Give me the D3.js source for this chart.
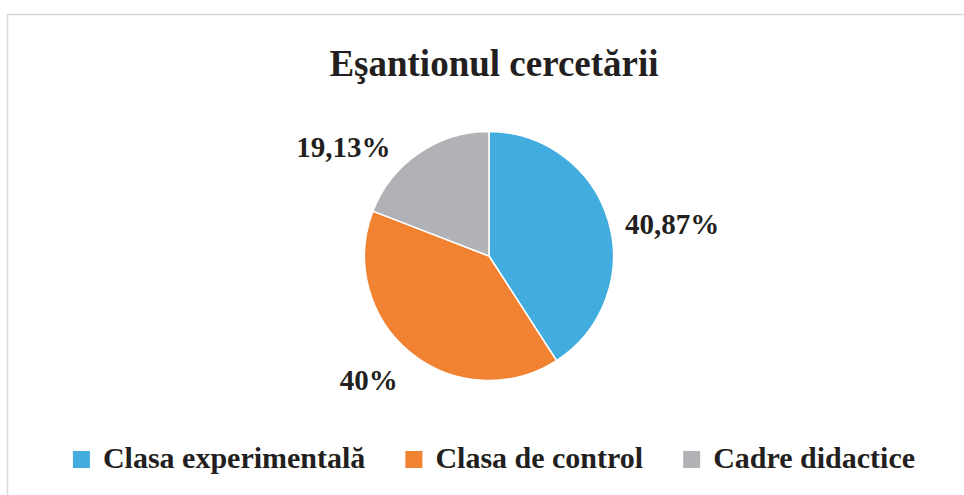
<!DOCTYPE html>
<html>
<head>
<meta charset="utf-8">
<script src="https://cdn.jsdelivr.net/npm/d3@7"></script>
<style>
  body { margin: 0; background: #fff; }
  text { font-family: "Liberation Serif", "Times New Roman", serif; font-weight: bold; fill: #231f20; }
</style>
</head>
<body>
<div id="chart"></div>
<script>
// Chart data
const title = "Eşantionul cercetării";
const categories = ["Clasa experimentală", "Clasa de control", "Cadre didactice"];
const values = [40.87, 40, 19.13];
const valueLabels = ["40,87%", "40%", "19,13%"];
const colors = ["#41acdd", "#f08232", "#b1b2b6"];
// small manual shifts for the outside labels (Excel places them its own way)
const labelNudge = [[28, 24], [-18, 8], [-54, 34]];

const width = 964;
const height = 495;
const cx = 489, cy = 256, radius = 124.5;

const svg = d3.select("#chart").append("svg")
    .attr("width", width)
    .attr("height", height);

// frame (right and bottom run off the page)
svg.append("rect")
    .attr("x", 7.5).attr("y", 14.5)
    .attr("width", 1000).attr("height", 1000)
    .attr("fill", "none")
    .attr("stroke", "#d9d9d9")
    .attr("stroke-width", 1.5);

svg.append("text")
    .attr("x", 494).attr("y", 76)
    .attr("text-anchor", "middle")
    .style("font-size", "37px")
    .text(title);

const pie = d3.pie().sort(null).value(d => d)(values);
const arc = d3.arc().innerRadius(0).outerRadius(radius);
const labelArc = d3.arc().innerRadius(radius * 1.3).outerRadius(radius * 1.3);

const g = svg.append("g").attr("transform", `translate(${cx},${cy})`);

g.selectAll("path")
    .data(pie)
    .join("path")
    .attr("d", arc)
    .attr("fill", (d, i) => colors[i])
    .attr("stroke", "#fff")
    .attr("stroke-width", 1.5);

g.selectAll("text.lbl")
    .data(pie)
    .join("text")
    .attr("class", "lbl")
    .attr("text-anchor", "middle")
    .attr("x", (d, i) => labelArc.centroid(d)[0] + labelNudge[i][0])
    .attr("y", (d, i) => labelArc.centroid(d)[1] + labelNudge[i][1])
    .style("font-size", "29px")
    .text((d, i) => valueLabels[i]);

// Legend, laid out from measured text widths and centred
const legend = svg.append("g");
const sw = 17, gapText = 13, gapItem = 40;
let xPos = 0;
categories.forEach((c, i) => {
  const item = legend.append("g").attr("transform", `translate(${xPos},0)`);
  item.append("rect")
      .attr("x", 0).attr("y", -17)
      .attr("width", sw).attr("height", sw)
      .attr("fill", colors[i]);
  const t = item.append("text")
      .attr("x", sw + gapText).attr("y", 0)
      .style("font-size", "30px")
      .text(c);
  xPos += sw + gapText + t.node().getComputedTextLength() + gapItem;
});
const legendWidth = xPos - gapItem;
legend.attr("transform", `translate(${494 - legendWidth / 2},468)`);
</script>
</body>
</html>
